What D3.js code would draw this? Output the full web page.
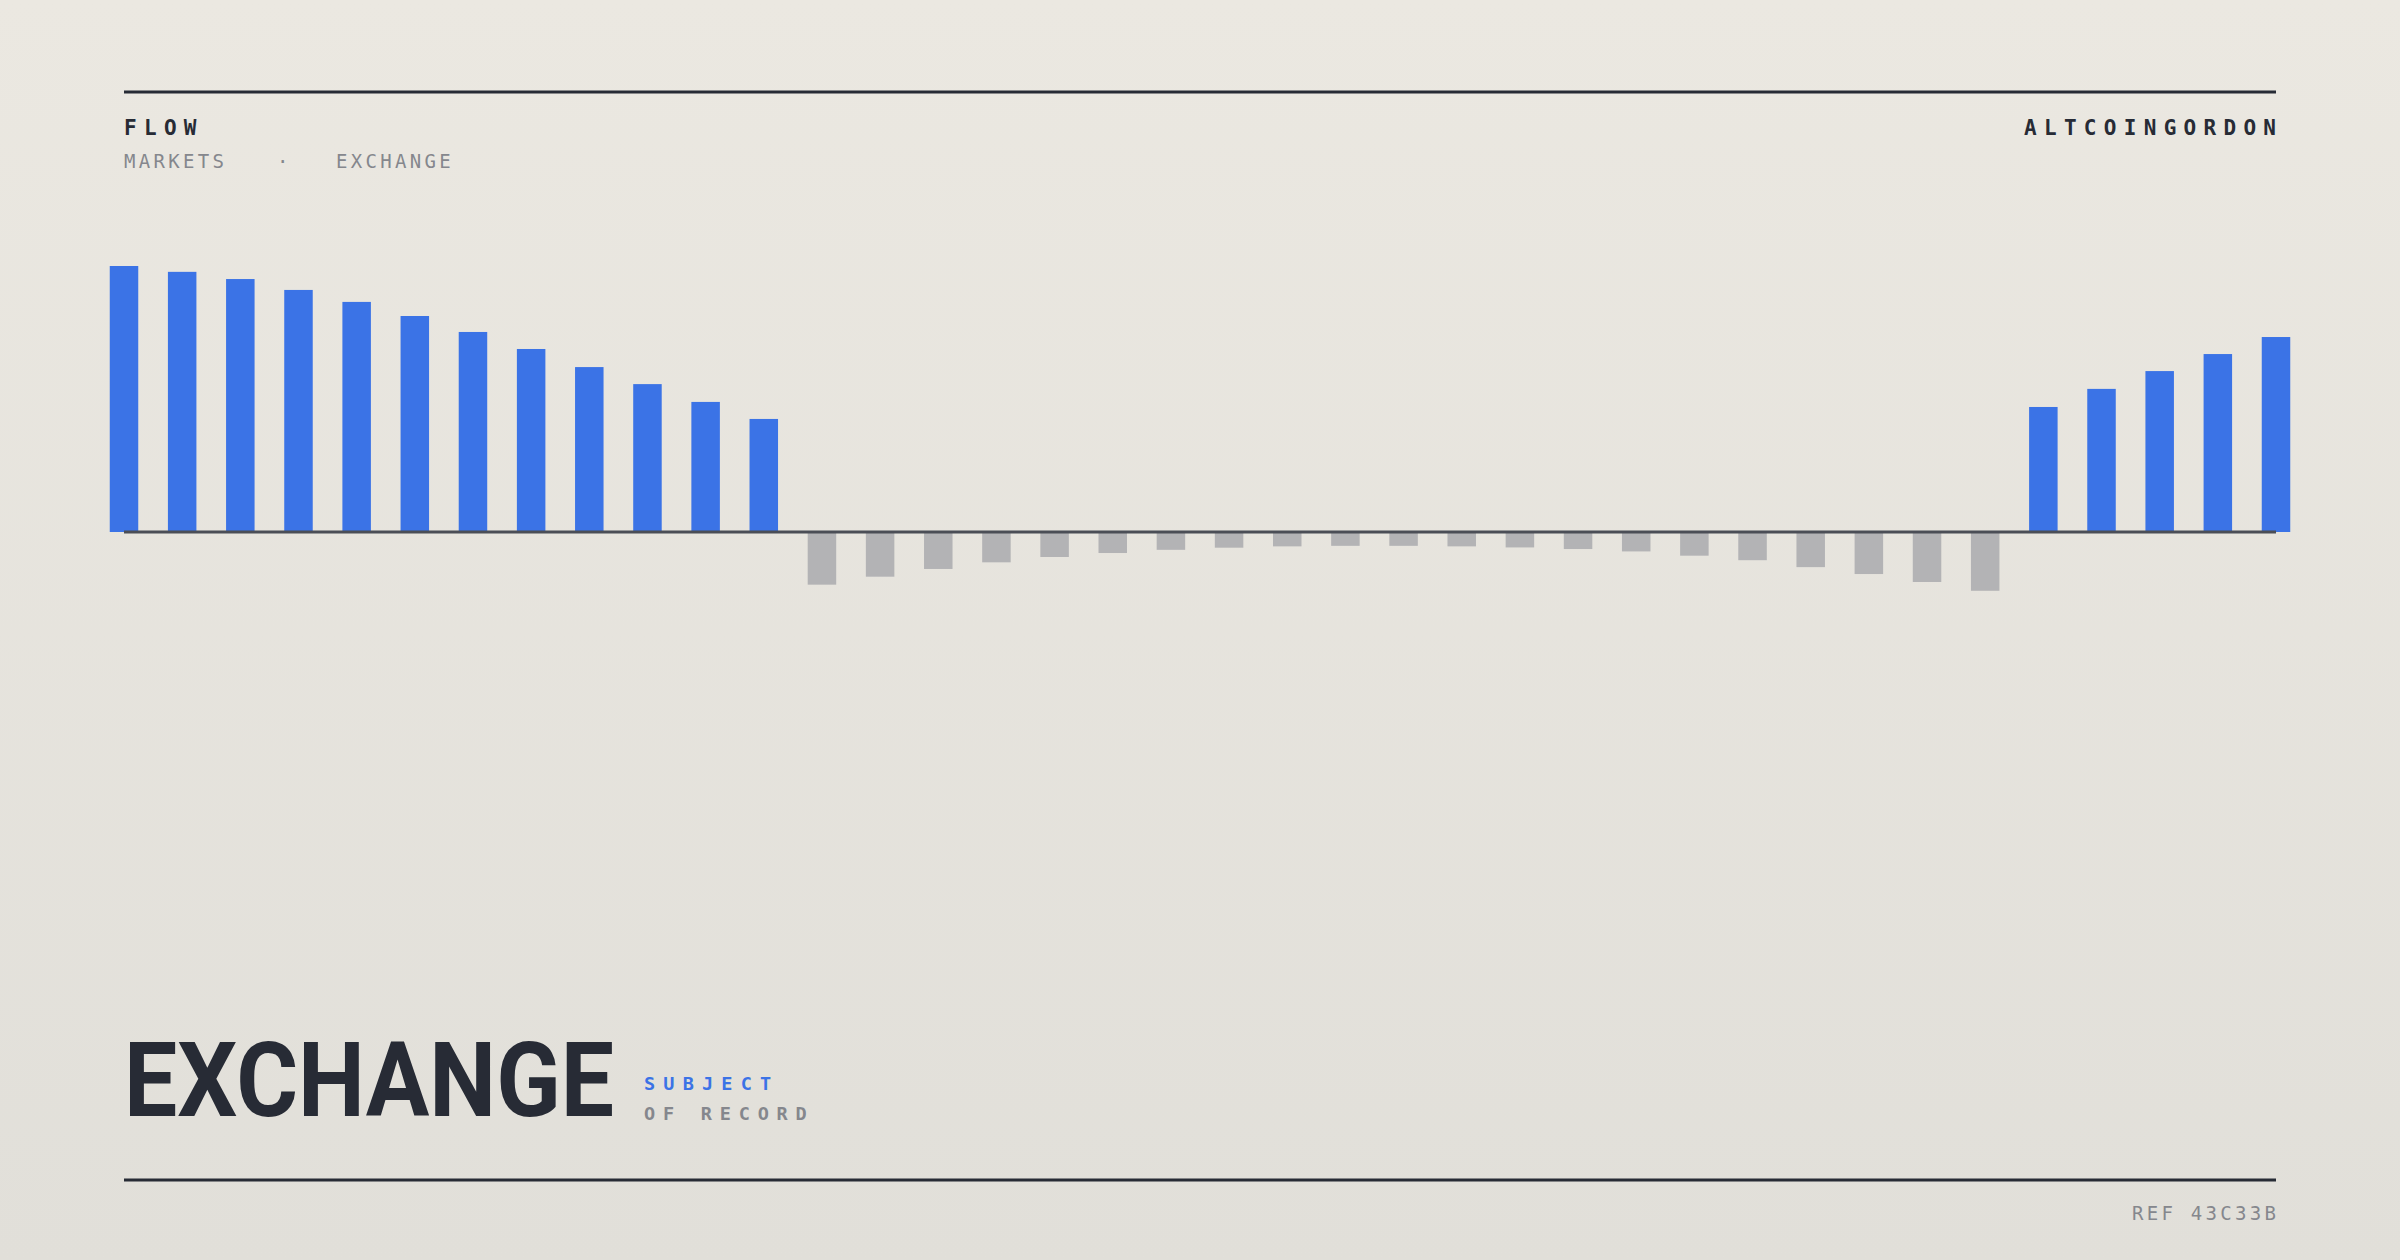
<!DOCTYPE html>
<html>
<head>
<meta charset="utf-8">
<script src="https://cdn.jsdelivr.net/npm/d3@7/dist/d3.min.js"></script>
<style>
  html, body { margin: 0; padding: 0; }
  body { width: 2400px; height: 1260px; overflow: hidden; }
  svg { display: block; }
</style>
</head>
<body>
<svg id="chart" width="2400" height="1260"></svg>
<script>
// ---- data ----
const leftInflow = [100, 97.8, 95.1, 91.0, 86.5, 81.2, 75.2, 68.8, 62.0, 55.6, 48.9, 42.5];
const outflow = [-19.8, -16.8, -13.9, -11.4, -9.4, -7.9, -6.7, -5.9, -5.4, -5.2, -5.2, -5.4, -5.8, -6.4, -7.3, -8.9, -10.6, -13.2, -15.8, -18.8, -22.1];
const rightInflow = [47.0, 53.8, 60.5, 66.9, 73.3];
const values = [...leftInflow, ...outflow, ...rightInflow];
const periods = values.map((v, i) => i);

const headerTitle = "FLOW";
const headerSub = ["MARKETS", "·", "EXCHANGE"];
const brand = "ALTCOINGORDON";
const bigTitle = "EXCHANGE";
const subjectLines = ["SUBJECT", "OF RECORD"];
const refLabel = "REF 43C33B";

// ---- layout ----
const W = 2400, H = 1260;
const left = 124, right = 2276;
const baseY = 532;
const pxPerUnit = 2.66;

const svg = d3.select("#chart");
const defs = svg.append("defs");
const grad = defs.append("linearGradient").attr("id", "bg").attr("x1", 0).attr("y1", 0).attr("x2", 0).attr("y2", 1);
grad.append("stop").attr("offset", "0%").attr("stop-color", "#ebe8e1");
grad.append("stop").attr("offset", "100%").attr("stop-color", "#e1dfd9");
svg.append("rect").attr("width", W).attr("height", H).attr("fill", "url(#bg)");

// rules
svg.append("line").attr("x1", left).attr("x2", right).attr("y1", 92).attr("y2", 92)
  .attr("stroke", "#272b35").attr("stroke-width", 3);
svg.append("line").attr("x1", left).attr("x2", right).attr("y1", 1180).attr("y2", 1180)
  .attr("stroke", "#272b35").attr("stroke-width", 3);

// header text
const mono = "'DejaVu Sans Mono', 'Liberation Mono', monospace";
svg.append("text").attr("x", left).attr("y", 135).text(headerTitle)
  .attr("font-family", mono).attr("font-weight", "bold").attr("font-size", 21)
  .attr("letter-spacing", 7.3).attr("fill", "#272b35");
svg.append("text").attr("x", right + 7.3).attr("y", 135).text(brand)
  .attr("text-anchor", "end")
  .attr("font-family", mono).attr("font-weight", "bold").attr("font-size", 21)
  .attr("letter-spacing", 7.3).attr("fill", "#272b35");

const subX = [124, 277, 336];
headerSub.forEach((t, i) => {
  svg.append("text").attr("x", subX[i]).attr("y", 168).text(t)
    .attr("font-family", mono).attr("font-size", 19).attr("letter-spacing", 3.3)
    .attr("fill", "#85878d");
});

// ---- scales ----
const x = d3.scalePoint().domain(periods).range([left, right]);
const barW = x.step() * 0.49;
const y = d3.scaleLinear().domain([-100, 100]).range([baseY + 100 * pxPerUnit, baseY - 100 * pxPerUnit]);

svg.append("g").selectAll("rect").data(values).join("rect")
  .attr("x", (d, i) => x(i) - barW / 2)
  .attr("width", barW)
  .attr("y", d => Math.min(y(d), y(0)))
  .attr("height", d => Math.abs(y(d) - y(0)))
  .attr("fill", d => d >= 0 ? "#3b73e6" : "#b3b3b5");

// baseline
svg.append("line").attr("x1", left).attr("x2", right).attr("y1", y(0)).attr("y2", y(0))
  .attr("stroke", "#4b4e56").attr("stroke-width", 3);

// big title: fit to target width via horizontal scale
const titleG = svg.append("g");
const titleT = titleG.append("text").attr("x", 0).attr("y", 0).text(bigTitle)
  .attr("font-family", "'Liberation Sans Narrow', Roboto, 'Liberation Sans', sans-serif")
  .attr("font-weight", "bold")
  .attr("font-size", 103)
  .attr("fill", "#272b35");
const natW = titleT.node().getComputedTextLength();
const sx = 490 / natW;
titleG.attr("transform", `translate(124,1116) scale(${sx},1)`);

svg.append("text").attr("x", 644).attr("y", 1090).text(subjectLines[0])
  .attr("font-family", mono).attr("font-weight", "bold").attr("font-size", 18.5)
  .attr("letter-spacing", 8.2).attr("fill", "#3b73e6");
svg.append("text").attr("x", 644).attr("y", 1120).text(subjectLines[1])
  .attr("font-family", mono).attr("font-weight", "bold").attr("font-size", 18.5)
  .attr("letter-spacing", 7.8).attr("fill", "#85878d");

// ref
svg.append("text").attr("x", right + 3.3).attr("y", 1220).text(refLabel)
  .attr("text-anchor", "end")
  .attr("font-family", mono).attr("font-size", 19).attr("letter-spacing", 3.3)
  .attr("fill", "#85878d");
</script>
</body>
</html>
